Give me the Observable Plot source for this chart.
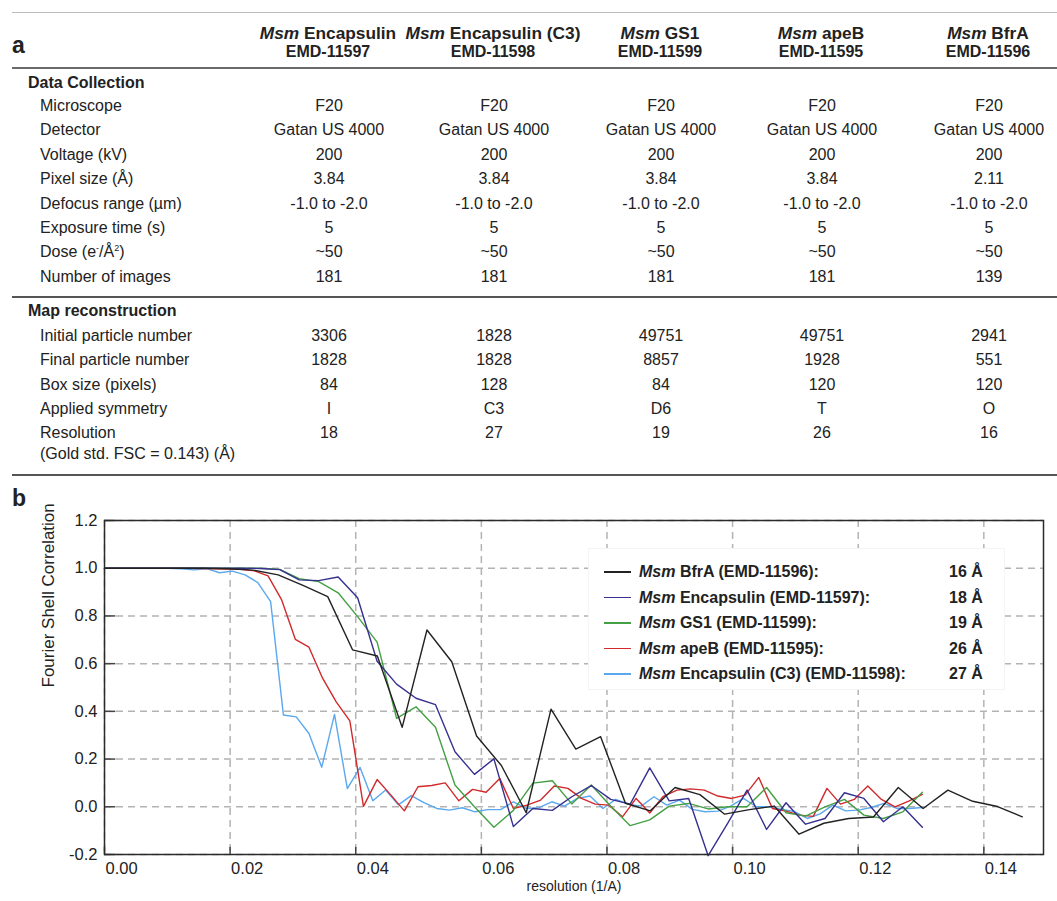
<!DOCTYPE html>
<html>
<head>
<meta charset="utf-8">
<script src="https://cdn.jsdelivr.net/npm/d3@7"></script>
<script src="https://cdn.jsdelivr.net/npm/@observablehq/plot@0.6"></script>
<style>
  html, body { margin: 0; padding: 0; background: #fff; }
  #fig { position: relative; width: 1057px; height: 901px; overflow: hidden;
         font-family: "Liberation Sans", Arial, Helvetica, sans-serif; color: #222; }
  .abs { position: absolute; white-space: nowrap; }
  .rule { position: absolute; left: 12px; width: 1045px; }
  sup { font-size: 9px; line-height: 0; vertical-align: 6px; }
  #chart { position: absolute; left: 0; top: 480px; }
  #legend { position: absolute; left: 588px; top: 548px; width: 417px; height: 142px;
            background: #fff; border: 1px solid #f4f4f4; box-sizing: border-box; }
</style>
</head>
<body>
<div id="fig"><div id="chart"></div></div>
<script>
// ---------------- panel a: table data ----------------
const headerNames = ["Encapsulin", "Encapsulin (C3)", "GS1", "apeB", "BfrA"];
const emdIds = ["EMD-11597", "EMD-11598", "EMD-11599", "EMD-11595", "EMD-11596"];

const collectionLabels = ["Microscope", "Detector", "Voltage (kV)", "Pixel size (Å)",
  "Defocus range (µm)", "Exposure time (s)", "Dose (e<sup>-</sup>/Å<sup>2</sup>)", "Number of images"];
const microscope = ["F20", "F20", "F20", "F20", "F20"];
const detector = ["Gatan US 4000", "Gatan US 4000", "Gatan US 4000", "Gatan US 4000", "Gatan US 4000"];
const voltage = ["200", "200", "200", "200", "200"];
const pixelSize = ["3.84", "3.84", "3.84", "3.84", "2.11"];
const defocus = ["-1.0 to -2.0", "-1.0 to -2.0", "-1.0 to -2.0", "-1.0 to -2.0", "-1.0 to -2.0"];
const exposure = ["5", "5", "5", "5", "5"];
const dose = ["~50", "~50", "~50", "~50", "~50"];
const images = ["181", "181", "181", "181", "139"];

const mapLabels = ["Initial particle number", "Final particle number", "Box size (pixels)",
  "Applied symmetry", "Resolution"];
const initialParticles = ["3306", "1828", "49751", "49751", "2941"];
const finalParticles = ["1828", "1828", "8857", "1928", "551"];
const boxSize = ["84", "128", "84", "120", "120"];
const symmetry = ["I", "C3", "D6", "T", "O"];
const resolution = ["18", "27", "19", "26", "16"];

// ---------------- panel b: FSC curves ----------------
const bfrAX = [0, 0.00395, 0.00790, 0.01185, 0.01580, 0.01975, 0.02370, 0.02765, 0.03160, 0.03554,
  0.03949, 0.04344, 0.04739, 0.05134, 0.05529, 0.05924, 0.06319, 0.06714, 0.07109, 0.07504,
  0.07899, 0.08294, 0.08689, 0.09084, 0.09479, 0.09874, 0.10268, 0.10663, 0.11058, 0.11453,
  0.11848, 0.12243, 0.12638, 0.13033, 0.13428, 0.13823, 0.14218, 0.14613];
const bfrAY = [1.0, 1.0, 1.0, 1.0, 1.0, 0.998, 0.992, 0.972, 0.928, 0.881,
  0.658, 0.632, 0.333, 0.741, 0.608, 0.297, 0.173, -0.025, 0.409, 0.242,
  0.294, 0.015, -0.017, 0.081, 0.051, -0.031, -0.012, 0.003, -0.115, -0.069,
  -0.049, -0.043, 0.081, -0.007, 0.070, 0.023, 0.001, -0.042];

const encX = [0, 0.00310, 0.00620, 0.00930, 0.01240, 0.01550, 0.01860, 0.02170, 0.02480, 0.02790,
  0.03100, 0.03410, 0.03720, 0.04030, 0.04340, 0.04650, 0.04960, 0.05270, 0.05580, 0.05890,
  0.06200, 0.06510, 0.06820, 0.07130, 0.07440, 0.07750, 0.08060, 0.08370, 0.08681, 0.08991,
  0.09301, 0.09611, 0.09921, 0.10231, 0.10541, 0.10851, 0.11161, 0.11471, 0.11781, 0.12091,
  0.12401, 0.12711, 0.13021];
const encY = [1.0, 1.0, 1.0, 1.0, 1.0, 1.0, 1.0, 1.0, 0.999, 0.994,
  0.951, 0.948, 0.963, 0.876, 0.610, 0.514, 0.455, 0.428, 0.231, 0.136,
  0.201, -0.083, -0.007, -0.015, 0.042, 0.089, 0.031, 0.011, 0.163, 0.025,
  0.035, -0.205, -0.070, 0.070, -0.095, 0.017, -0.073, -0.049, 0.059, 0.035,
  -0.063, 0.000, -0.086];

const gs1X = encX;
const gs1Y = [1.0, 1.0, 1.0, 1.0, 1.0, 1.0, 1.0, 1.0, 1.0, 0.995,
  0.956, 0.944, 0.897, 0.797, 0.690, 0.371, 0.419, 0.333, 0.091, 0.000,
  -0.086, -0.015, 0.099, 0.109, 0.012, 0.091, 0.002, -0.079, -0.055, 0.003,
  0.014, -0.009, 0.000, 0.000, 0.081, -0.025, -0.039, 0.000, 0.031, -0.035,
  -0.049, -0.021, 0.061];

const apeBX = [0, 0.00217, 0.00434, 0.00651, 0.00868, 0.01085, 0.01302, 0.01519, 0.01736, 0.01953,
  0.02170, 0.02387, 0.02604, 0.02821, 0.03038, 0.03255, 0.03472, 0.03689, 0.03906, 0.04123,
  0.04340, 0.04557, 0.04774, 0.04991, 0.05208, 0.05425, 0.05642, 0.05859, 0.06076, 0.06293,
  0.06510, 0.06727, 0.06944, 0.07161, 0.07378, 0.07595, 0.07813, 0.08030, 0.08247, 0.08464,
  0.08681, 0.08898, 0.09115, 0.09332, 0.09549, 0.09766, 0.09983, 0.10200, 0.10417, 0.10634,
  0.10851, 0.11068, 0.11285, 0.11502, 0.11719, 0.11936, 0.12153, 0.12370, 0.12587, 0.12804,
  0.13021];
const apeBY = [1.0, 1.0, 1.0, 1.0, 1.0, 1.0, 1.0, 0.999, 0.998, 0.997,
  0.995, 0.989, 0.968, 0.867, 0.702, 0.669, 0.539, 0.440, 0.360, 0.002,
  0.114, 0.050, -0.017, 0.084, 0.089, 0.100, 0.025, 0.073, 0.061, 0.119,
  -0.007, 0.007, 0.028, 0.087, 0.077, 0.035, 0.011, 0.007, -0.042, 0.035,
  -0.026, 0.044, 0.070, 0.075, 0.070, 0.045, 0.035, 0.049, 0.123, -0.007,
  -0.018, -0.035, -0.040, 0.077, 0.011, 0.031, 0.087, 0.031, 0.000, 0.024,
  0.052];

const c3X = [0, 0.00203, 0.00407, 0.00610, 0.00814, 0.01017, 0.01221, 0.01424, 0.01628, 0.01831,
  0.02035, 0.02238, 0.02441, 0.02645, 0.02848, 0.03052, 0.03255, 0.03459, 0.03662, 0.03866,
  0.04069, 0.04272, 0.04476, 0.04679, 0.04883, 0.05086, 0.05290, 0.05493, 0.05697, 0.05900,
  0.06104, 0.06307, 0.06510, 0.06714, 0.06917, 0.07121, 0.07324, 0.07528, 0.07731, 0.07935,
  0.08138, 0.08341, 0.08545, 0.08748, 0.08952, 0.09155, 0.09359, 0.09562, 0.09766, 0.09969,
  0.10173, 0.10376, 0.10579, 0.10783, 0.10986, 0.11190, 0.11393, 0.11597, 0.11800, 0.12004,
  0.12207, 0.12410, 0.12614, 0.12817, 0.13021];
const c3Y = [1.0, 1.0, 1.0, 1.0, 1.0, 1.0, 0.998, 0.993, 0.998, 0.981,
  0.988, 0.972, 0.940, 0.860, 0.385, 0.377, 0.307, 0.166, 0.387, 0.076,
  0.165, 0.025, 0.070, 0.008, 0.047, 0.017, -0.007, -0.014, -0.004, -0.021,
  -0.012, -0.012, 0.021, -0.007, -0.004, 0.021, 0.003, 0.035, 0.045, -0.007,
  0.031, 0.011, 0.003, 0.042, 0.007, 0.028, -0.011, -0.021, -0.018, 0.003,
  0.035, 0.000, 0.000, -0.011, -0.020, -0.049, -0.030, 0.007, -0.017, -0.014,
  -0.003, 0.014, -0.007, -0.007, -0.003];

const xTicks = [0, 0.02, 0.04, 0.06, 0.08, 0.10, 0.12, 0.14];
const yTicks = [-0.2, 0, 0.2, 0.4, 0.6, 0.8, 1.0, 1.2];
const legendNames = ["BfrA (EMD-11596):", "Encapsulin (EMD-11597):", "GS1 (EMD-11599):",
  "apeB (EMD-11595):", "Encapsulin (C3) (EMD-11598):"];
const legendRes = ["16 Å", "18 Å", "19 Å", "26 Å", "27 Å"];

// ---------------- styling / layout ----------------
const colors = ["#222222", "#36318f", "#45a045", "#d02a2c", "#5aa8ee"];
const fig = document.getElementById("fig");

function put(html, x, yc, opt = {}) {
  const d = document.createElement("div");
  d.className = "abs";
  d.innerHTML = html;
  d.style.left = x + "px";
  d.style.top = (yc - 10) + "px";
  d.style.lineHeight = "20px";
  d.style.fontSize = (opt.size || 16) + "px";
  d.style.fontWeight = opt.weight || "normal";
  if (opt.anchor === "middle") d.style.transform = "translateX(-50%)";
  (opt.parent || fig).appendChild(d);
  return d;
}
function hline(y, h, color) {
  const d = document.createElement("div");
  d.className = "rule";
  d.style.top = y + "px";
  d.style.height = h + "px";
  d.style.background = color;
  fig.appendChild(d);
}

// Table
hline(12, 1, "#bdbdbd");
put("a", 12, 45, {size: 23, weight: "bold"});
const colCenters = [329, 494, 661, 822, 989];
headerNames.forEach((n, i) => {
  put(`<i>Msm</i> ${n}`, colCenters[i] - 1, 33, {anchor: "middle", weight: "bold", size: 17.3});
  put(emdIds[i], colCenters[i] - 1, 52, {anchor: "middle", weight: "bold"});
});
hline(67, 2, "#6a6a6a");

put("Data Collection", 28, 83, {weight: "bold"});
const collectionRows = [microscope, detector, voltage, pixelSize, defocus, exposure, dose, images];
collectionLabels.forEach((lab, r) => {
  const yc = 106 + r * 24.4;
  put(lab, 40, yc);
  collectionRows[r].forEach((v, i) => put(v, colCenters[i], yc, {anchor: "middle"}));
});
hline(296, 2, "#555");

put("Map reconstruction", 28, 311, {weight: "bold"});
const mapRows = [initialParticles, finalParticles, boxSize, symmetry, resolution];
mapLabels.forEach((lab, r) => {
  const yc = 336 + r * 24.3;
  put(lab, 40, yc);
  mapRows[r].forEach((v, i) => put(v, colCenters[i], yc, {anchor: "middle"}));
});
put("(Gold std. FSC = 0.143) (Å)", 40, 454);
hline(474, 2, "#555");

// Panel b label
put("b", 12, 498, {size: 23, weight: "bold"});

// Chart
const series = [
  {x: c3X, y: c3Y, color: colors[4]},
  {x: apeBX, y: apeBY, color: colors[3]},
  {x: gs1X, y: gs1Y, color: colors[2]},
  {x: encX, y: encY, color: colors[1]},
  {x: bfrAX, y: bfrAY, color: colors[0]}
];

const chart = Plot.plot({
  width: 1057,
  height: 421,
  marginLeft: 104,
  marginRight: 14,
  marginTop: 40,
  marginBottom: 47,
  style: {fontFamily: "Liberation Sans, Arial, sans-serif", fontSize: "16px", color: "#222", background: "#fff", overflow: "visible"},
  x: {domain: [0, 0.1495]},
  y: {domain: [-0.2, 1.2]},
  marks: [
    Plot.gridX(xTicks, {stroke: "#b3b3b3", strokeOpacity: 1, strokeWidth: 1.5, strokeDasharray: "7,5"}),
    Plot.gridY(yTicks, {stroke: "#b3b3b3", strokeOpacity: 1, strokeWidth: 1.5, strokeDasharray: "7,5"}),
    Plot.axisY(yTicks, {tickSize: 0, tickPadding: 7, tickFormat: d => d.toFixed(1), label: null, fontSize: 16.5}),
    Plot.axisX(xTicks, {tickSize: 0, tickPadding: 8, tickFormat: d => d.toFixed(2), textAnchor: "start", dx: 1, label: null, fontSize: 16.5}),
    Plot.ruleY(yTicks, {x1: 0, x2: 0.0018, stroke: "#444", strokeWidth: 1.5}),
    Plot.ruleX(xTicks, {y1: -0.2, y2: -0.17, stroke: "#444", strokeWidth: 1.5}),
    ...series.map(s => Plot.line(d3.range(s.x.length), {
      x: i => s.x[i], y: i => s.y[i], stroke: s.color, strokeWidth: 1.4, curve: "linear"
    })),
    Plot.frame({stroke: "#2a2a2a", strokeWidth: 1.5}),
    Plot.text(["Fourier Shell Correlation"], {frameAnchor: "left", dx: -56, rotate: -90, fontSize: 17, fill: "#222"}),
    Plot.text(["resolution (1/A)"], {frameAnchor: "bottom", dy: 36, fontSize: 14, fill: "#222"})
  ]
});
document.getElementById("chart").appendChild(chart);

// Legend
const legend = document.createElement("div");
legend.id = "legend";
fig.appendChild(legend);
legendNames.forEach((n, i) => {
  const yc = 571 - 548 + i * 25.6;
  const sw = document.createElement("div");
  sw.className = "abs";
  sw.style.left = (603 - 588) + "px";
  sw.style.top = (yc - 1) + "px";
  sw.style.width = "27px";
  sw.style.height = "1.6px";
  sw.style.background = colors[i];
  legend.appendChild(sw);
  put(`<i>Msm</i> ${n}`, 638 - 588, yc, {weight: "bold", parent: legend});
  put(legendRes[i], 948 - 588, yc, {weight: "bold", parent: legend});
});
</script>
</body>
</html>
